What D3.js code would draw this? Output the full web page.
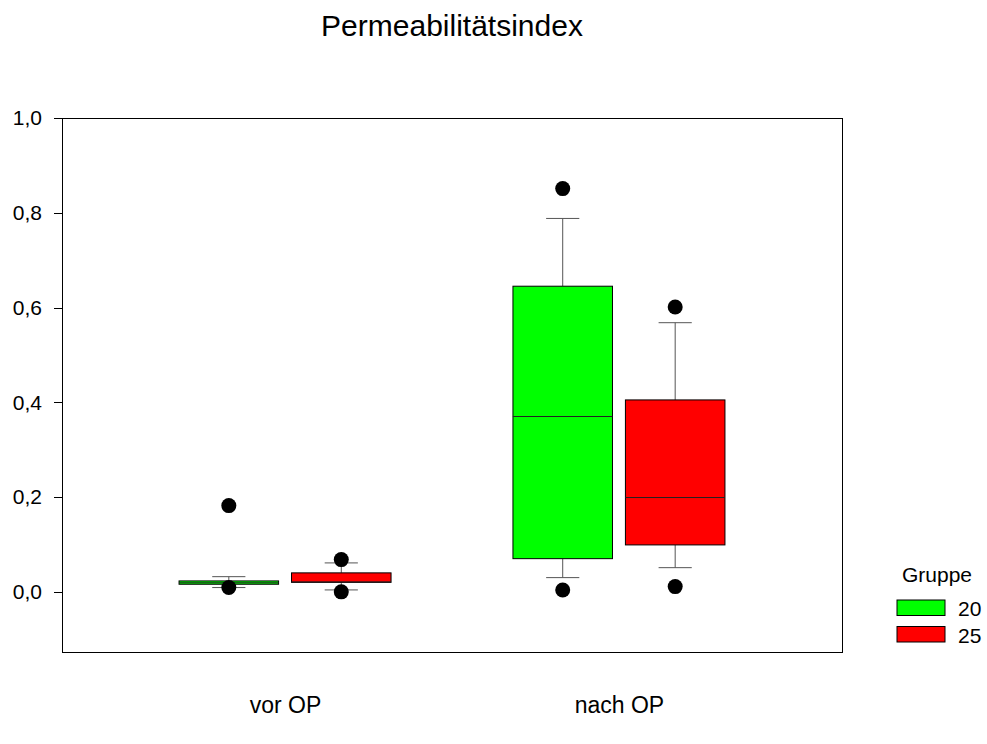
<!DOCTYPE html>
<html lang="de">
<head>
<meta charset="UTF-8">
<title>Permeabilitätsindex</title>
<script src="https://cdn.jsdelivr.net/npm/d3@7"></script>
<style>
    body{ margin:0; background:#fff; }
    svg text{ font-family: "Liberation Sans", Arial, sans-serif; fill:#000; }
    .axis path{ display:none; }
    .axis line{ stroke:#000; shape-rendering: crispEdges; }
    .axis text{ font-size:21px; }
    .xaxis text{ font-size:23px; }
</style>
</head>
<body>
<script>
    var width = 987, height = 744;
    var padding = {left:62, right:145, top:118, bottom:92};

    // data: [category][group]
    var categories = ["vor OP", "nach OP"];
    var groups = ["20", "25"];
    var colors = ["#00ff00", "#ff0000"];
    var whiskerLow  = [[0.009, 0.004], [0.030, 0.051]];
    var q1          = [[0.016, 0.020], [0.070, 0.099]];
    var median      = [[0.019, 0.021], [0.370, 0.199]];
    var q3          = [[0.023, 0.040], [0.645, 0.405]];
    var whiskerHigh = [[0.032, 0.061], [0.788, 0.568]];
    var outliers    = [[[0.182, 0.009], [0.068, 0.000]], [[0.851, 0.004], [0.601, 0.011]]];
    var yTicks = [0, 0.2, 0.4, 0.6, 0.8, 1.0];

    var svg = d3.select("body").append("svg")
        .attr("width", width).attr("height", height);

    var plotW = width - padding.left - padding.right;
    var plotH = height - padding.top - padding.bottom;

    var yScale = d3.scaleLinear()
        .domain([-0.127, 1.0])
        .range([plotH, 0]);

    var xScale = d3.scalePoint()
        .domain(categories)
        .range([0, plotW])
        .padding(0.668);

    var gScale = d3.scaleBand()
        .domain(groups)
        .range([-106, 106])
        .paddingInner(0.115);

    var g = svg.append("g")
        .attr("transform", "translate(" + padding.left + "," + padding.top + ")");

    // title
    svg.append("text")
        .attr("x", padding.left + plotW / 2)
        .attr("y", 36)
        .attr("text-anchor", "middle")
        .style("font-size", "30px")
        .text("Permeabilitätsindex");

    // frame
    g.append("rect")
        .attr("width", plotW).attr("height", plotH)
        .attr("fill", "none").attr("stroke", "#000")
        .attr("shape-rendering", "crispEdges");

    // y axis
    g.append("g").attr("class", "axis")
        .call(d3.axisLeft(yScale).tickValues(yTicks).tickSize(8).tickPadding(12)
            .tickFormat(function(d){ return d3.format(".1f")(d).replace(".", ","); }));

    // x axis labels
    g.append("g").attr("class", "axis xaxis")
        .attr("transform", "translate(0," + plotH + ")")
        .call(d3.axisBottom(xScale).tickSize(0).tickPadding(45));

    var bw = gScale.bandwidth();
    var capW = bw / 3;

    categories.forEach(function(cat, ci){
        groups.forEach(function(grp, gi){
            var cx = xScale(cat) + gScale(grp) + bw / 2;
            var x0 = xScale(cat) + gScale(grp);
            var box = g.append("g");

            // whiskers
            box.append("line")
                .attr("x1", cx).attr("x2", cx)
                .attr("y1", yScale(whiskerLow[ci][gi])).attr("y2", yScale(q1[ci][gi]))
                .attr("stroke", "#555");
            box.append("line")
                .attr("x1", cx).attr("x2", cx)
                .attr("y1", yScale(q3[ci][gi])).attr("y2", yScale(whiskerHigh[ci][gi]))
                .attr("stroke", "#555");
            [whiskerLow[ci][gi], whiskerHigh[ci][gi]].forEach(function(v){
                box.append("line")
                    .attr("x1", cx - capW / 2).attr("x2", cx + capW / 2)
                    .attr("y1", yScale(v)).attr("y2", yScale(v))
                    .attr("stroke", "#555");
            });

            // box
            box.append("rect")
                .attr("x", x0).attr("width", bw)
                .attr("y", yScale(q3[ci][gi]))
                .attr("height", yScale(q1[ci][gi]) - yScale(q3[ci][gi]))
                .attr("fill", colors[gi]).attr("stroke", "#000");

            // median
            box.append("line")
                .attr("x1", x0).attr("x2", x0 + bw)
                .attr("y1", yScale(median[ci][gi])).attr("y2", yScale(median[ci][gi]))
                .attr("stroke", "#222");

            // outliers
            box.selectAll("circle")
                .data(outliers[ci][gi])
                .enter().append("circle")
                .attr("cx", cx).attr("cy", function(d){ return yScale(d); })
                .attr("r", 7.5).attr("fill", "#000");
        });
    });

    // legend
    var legend = svg.append("g");
    legend.append("text")
        .attr("x", 937).attr("y", 582)
        .attr("text-anchor", "middle")
        .style("font-size", "21px")
        .text("Gruppe");
    groups.forEach(function(grp, gi){
        legend.append("rect")
            .attr("x", 897).attr("y", 600 + gi * 26.5)
            .attr("width", 48).attr("height", 15.5)
            .attr("fill", colors[gi]).attr("stroke", "#000");
        legend.append("text")
            .attr("x", 958).attr("y", 616 + gi * 26.5)
            .style("font-size", "21px")
            .text(grp);
    });
</script>
</body>
</html>
